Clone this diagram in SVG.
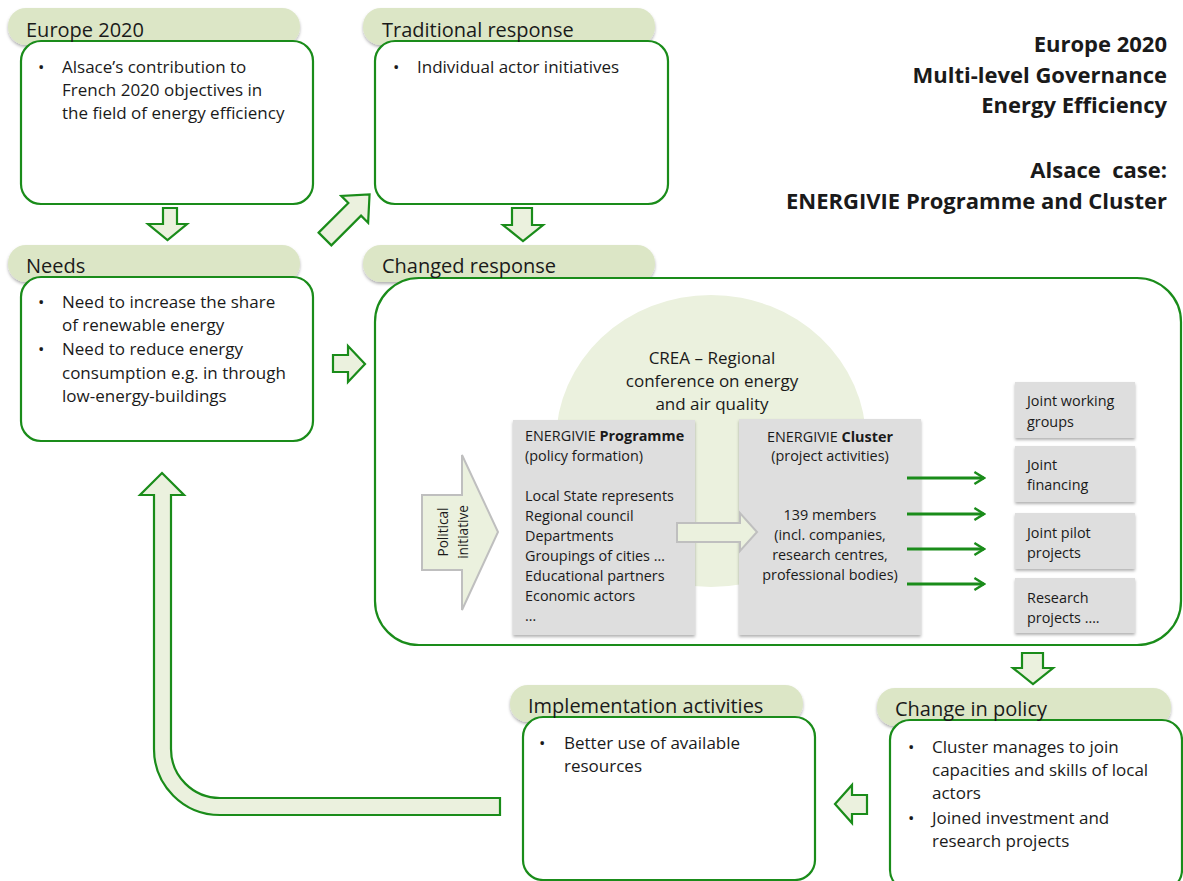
<svg xmlns="http://www.w3.org/2000/svg" width="1183" height="881" viewBox="0 0 1183 881">
<defs>
<filter id="sh" x="-10%" y="-20%" width="120%" height="150%">
<feDropShadow dx="0" dy="2" stdDeviation="1.6" flood-color="#000" flood-opacity="0.3"/>
</filter>
<marker id="ah" viewBox="0 0 10 12" refX="9" refY="6" markerWidth="4" markerHeight="4.5" orient="auto" markerUnits="strokeWidth">
<path d="M1,1 L9,6 L1,11" fill="none" stroke="#1a8c1a" stroke-width="2"/>
</marker>
<style>
.pill{fill:#dce6c6;filter:url(#sh)}
.box{fill:#fff;stroke:#1a8c1a;stroke-width:2.2}
.gbox{fill:#dedede;filter:url(#sh)}
.barrow{fill:#ebf1de;stroke:#1a8c1a;stroke-width:2.2;stroke-linejoin:miter}
.garrow{fill:#ebf1de;stroke:#bfbfbf;stroke-width:2}
.line{stroke:#1a8c1a;stroke-width:3.2;fill:none;marker-end:url(#ah)}
text{font-family:"Open Sans","Liberation Sans",sans-serif;fill:#1a1a1a}
.h{font-size:20px}
.b{font-size:17px}
.s{font-size:14.4px}
.p{font-size:13.6px}
.t{font-size:22px;font-weight:bold;text-anchor:end}
</style>
</defs>

<g id="title">
<text class="t" x="1167" y="52">Europe 2020</text>
<text class="t" x="1167" y="83">Multi-level Governance</text>
<text class="t" x="1167" y="113">Energy Efficiency</text>
<text class="t" x="1167" y="178" xml:space="preserve">Alsace  case:</text>
<text class="t" x="1167" y="209">ENERGIVIE Programme and Cluster</text>
</g>

<g id="europe2020">
<rect class="pill" x="8" y="8" width="292" height="37" rx="18"/>
<rect class="box" x="21" y="41" width="292" height="163" rx="20"/>
<text class="h" x="26" y="37">Europe 2020</text>
<text class="b" x="38" y="73">•</text>
<text class="b" x="62" y="73">Alsace’s contribution to</text>
<text class="b" x="62" y="96">French 2020 objectives in</text>
<text class="b" x="62" y="119">the field of energy efficiency</text>
</g>

<g id="traditional">
<rect class="pill" x="363" y="8" width="292" height="37" rx="18"/>
<rect class="box" x="375" y="41" width="293" height="163" rx="20"/>
<text class="h" x="382" y="37">Traditional response</text>
<text class="b" x="393" y="73">•</text>
<text class="b" x="417" y="73">Individual actor initiatives</text>
</g>

<g id="needs">
<rect class="pill" x="8" y="245" width="292" height="37" rx="18"/>
<rect class="box" x="21" y="277" width="292" height="164" rx="20"/>
<text class="h" x="26" y="273">Needs</text>
<text class="b" x="38" y="308">•</text>
<text class="b" x="62" y="308">Need to increase the share</text>
<text class="b" x="62" y="331">of renewable energy</text>
<text class="b" x="38" y="355">•</text>
<text class="b" x="62" y="355">Need to reduce energy</text>
<text class="b" x="62" y="379">consumption e.g. in through</text>
<text class="b" x="62" y="402">low-energy-buildings</text>
</g>

<g id="changed">
<rect class="pill" x="363" y="245" width="292" height="37" rx="18"/>
<rect class="box" x="375" y="278" width="806" height="367" rx="44"/>
<text class="h" x="382" y="273">Changed response</text>
</g>

<g id="crea">
<ellipse cx="711" cy="441" rx="155" ry="146" fill="#ebf1de"/>
<text class="b" x="712" y="364" text-anchor="middle">CREA – Regional</text>
<text class="b" x="712" y="387" text-anchor="middle">conference on energy</text>
<text class="b" x="712" y="410" text-anchor="middle">and air quality</text>
</g>

<g id="programme">
<rect class="gbox" x="513" y="420" width="182" height="215"/>
<text class="s" x="525" y="441">ENERGIVIE <tspan font-weight="bold">Programme</tspan></text>
<text class="s" x="525" y="461">(policy formation)</text>
<text class="s" x="525" y="501">Local State represents</text>
<text class="s" x="525" y="521">Regional council</text>
<text class="s" x="525" y="541">Departments</text>
<text class="s" x="525" y="561">Groupings of cities …</text>
<text class="s" x="525" y="581">Educational partners</text>
<text class="s" x="525" y="601">Economic actors</text>
<text class="s" x="525" y="621">…</text>
</g>

<g id="cluster">
<rect class="gbox" x="739" y="419" width="182" height="216"/>
<text class="s" x="830" y="442" text-anchor="middle">ENERGIVIE <tspan font-weight="bold">Cluster</tspan></text>
<text class="s" x="830" y="461" text-anchor="middle">(project activities)</text>
<text class="s" x="830" y="520" text-anchor="middle">139 members</text>
<text class="s" x="830" y="540" text-anchor="middle">(incl. companies,</text>
<text class="s" x="830" y="560" text-anchor="middle">research centres,</text>
<text class="s" x="830" y="580" text-anchor="middle">professional bodies)</text>
</g>

<g id="political">
<path class="garrow" d="M422,495 H462 V455 L498,532 L462,610 V570 H422 Z"/>
<text class="p" transform="translate(448,532) rotate(-90)" text-anchor="middle">Political</text>
<text class="p" transform="translate(468,532) rotate(-90)" text-anchor="middle">initiative</text>
</g>

<g id="jwg">
<rect class="gbox" x="1015" y="382" width="120" height="56"/>
<text class="s" x="1027" y="406">Joint working</text>
<text class="s" x="1027" y="427">groups</text>
</g>
<g id="jf">
<rect class="gbox" x="1015" y="446" width="120" height="56"/>
<text class="s" x="1027" y="470">Joint</text>
<text class="s" x="1027" y="490">financing</text>
</g>
<g id="jpp">
<rect class="gbox" x="1015" y="513" width="120" height="56"/>
<text class="s" x="1027" y="538">Joint pilot</text>
<text class="s" x="1027" y="558">projects</text>
</g>
<g id="rp">
<rect class="gbox" x="1015" y="578" width="120" height="55"/>
<text class="s" x="1027" y="603">Research</text>
<text class="s" x="1027" y="623">projects ….</text>
</g>

<g id="implementation">
<rect class="pill" x="510" y="685" width="293" height="37" rx="18"/>
<rect class="box" x="523" y="717" width="292" height="163" rx="20"/>
<text class="h" x="528" y="713">Implementation activities</text>
<text class="b" x="539" y="749">•</text>
<text class="b" x="564" y="749">Better use of available</text>
<text class="b" x="564" y="772">resources</text>
</g>

<g id="policy">
<rect class="pill" x="877" y="688" width="294" height="38" rx="18"/>
<rect class="box" x="890" y="720" width="292" height="170" rx="20"/>
<text class="h" x="895" y="716">Change in policy</text>
<text class="b" x="908" y="753">•</text>
<text class="b" x="932" y="753">Cluster manages to join</text>
<text class="b" x="932" y="776">capacities and skills of local</text>
<text class="b" x="932" y="799">actors</text>
<text class="b" x="908" y="824">•</text>
<text class="b" x="932" y="824">Joined investment and</text>
<text class="b" x="932" y="847">research projects</text>
</g>

<g id="connectors">
<path class="barrow" d="M163,208 H177 V224 H187 L167.5,240 L148,224 H163 Z"/>
<path class="barrow" d="M512,208 H532 V225 H543 L523,241 L503,225 H512 Z"/>
<path class="barrow" transform="translate(325,239) rotate(-45)" d="M0,-9 H42 V-19 L63,0 L42,19 V9 H0 Z"/>
<path class="barrow" d="M333,355 H348 V346 L365,364 L348,382 V372 H333 Z"/>
<path class="barrow" d="M1022,653 H1043 V668 H1053 L1033,684 L1013,668 H1022 Z"/>
<path class="barrow" d="M867,795 V814 H852 V823 L835,804 L852,785 V795 Z"/>
<path class="barrow" d="M162,473 L184,495 H171 V749 A49,49 0 0 0 220,798 H500 V815 H220 A66,66 0 0 1 154,749 V495 H140 Z"/>
<path class="garrow" d="M677,523 H740 V513 L757,532 L740,551 V542 H677 Z"/>
<line class="line" x1="907" y1="478" x2="984" y2="478"/>
<line class="line" x1="907" y1="514" x2="984" y2="514"/>
<line class="line" x1="907" y1="549" x2="984" y2="549"/>
<line class="line" x1="907" y1="584" x2="984" y2="584"/>
</g>
</svg>
